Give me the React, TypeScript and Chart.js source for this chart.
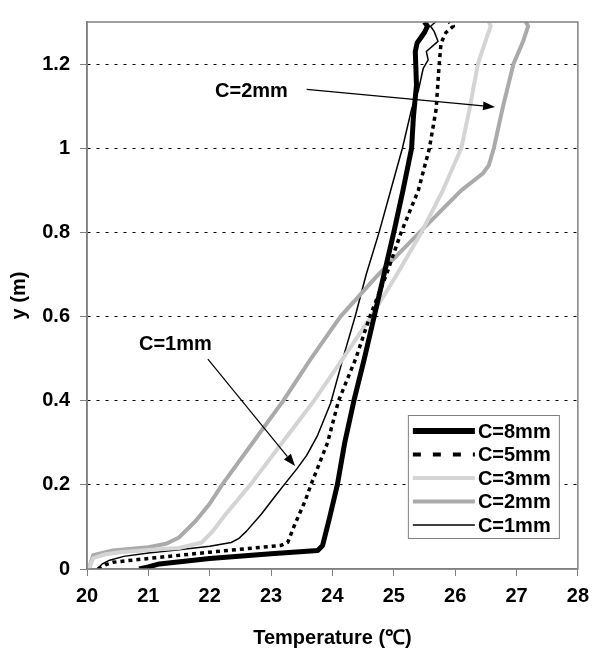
import React, { useEffect, useRef } from "react";
import { Chart, registerables } from "chart.js";

Chart.register(...registerables);

const FONT = "'Liberation Sans', Arial, Helvetica, sans-serif";

// ---- data (temperature in °C, height y in m) ----
const seriesNames = ["C=8mm", "C=5mm", "C=3mm", "C=2mm", "C=1mm"];

const c8Temp = [20.85, 21.0, 21.18, 22.0, 23.0, 23.76, 23.84, 23.95, 24.08, 24.2, 24.35, 24.52, 24.68, 24.84, 25.0, 25.15, 25.29, 25.32, 25.37, 25.35, 25.38, 25.5, 25.55, 25.5];
const c8Y = [0.0, 0.005, 0.012, 0.025, 0.036, 0.044, 0.056, 0.12, 0.2, 0.3, 0.4, 0.5, 0.6, 0.7, 0.8, 0.9, 1.0, 1.075, 1.15, 1.23, 1.25, 1.275, 1.29, 1.3];

const c5Temp = [20.18, 20.3, 20.42, 21.0, 22.0, 23.16, 23.27, 23.39, 23.55, 23.65, 23.92, 24.1, 24.38, 24.61, 24.88, 25.12, 25.4, 25.58, 25.69, 25.74, 25.77, 25.85, 25.97, 25.9];
const c5Y = [0.0, 0.01, 0.016, 0.025, 0.04, 0.056, 0.063, 0.107, 0.16, 0.2, 0.3, 0.4, 0.5, 0.6, 0.7, 0.8, 0.9, 1.0, 1.093, 1.2, 1.25, 1.275, 1.29, 1.3];

const c3Temp = [20.03, 20.1, 20.3, 20.53, 21.0, 21.5, 21.87, 22.05, 22.26, 22.66, 23.18, 23.7, 24.17, 24.63, 25.05, 25.45, 25.8, 26.1, 26.23, 26.37, 26.53, 26.58, 26.55];
const c3Y = [0.0, 0.026, 0.035, 0.04, 0.045, 0.05, 0.063, 0.09, 0.13, 0.2, 0.3, 0.4, 0.5, 0.6, 0.7, 0.8, 0.9, 1.0, 1.09, 1.2, 1.27, 1.29, 1.3];

const c2Temp = [20.03, 20.1, 20.42, 21.0, 21.29, 21.5, 21.77, 22.0, 22.2, 22.7, 23.2, 23.65, 24.13, 24.75, 25.42, 26.1, 26.45, 26.55, 26.63, 26.77, 26.95, 27.11, 27.19, 27.15];
const c2Y = [0.0, 0.033, 0.044, 0.052, 0.06, 0.075, 0.114, 0.155, 0.2, 0.3, 0.4, 0.5, 0.6, 0.7, 0.8, 0.9, 0.94, 0.96, 1.0, 1.093, 1.2, 1.255, 1.29, 1.3];

const c1Temp = [20.16, 20.25, 20.37, 20.6, 21.0, 21.5, 22.0, 22.35, 22.47, 22.6, 22.84, 23.05, 23.25, 23.42, 23.58, 23.75, 23.97, 24.19, 24.37, 24.55, 24.76, 24.95, 25.14, 25.29, 25.4, 25.48, 25.56, 25.53, 25.72, 25.66, 25.6, 25.68];
const c1Y = [0.0, 0.012, 0.021, 0.03, 0.038, 0.046, 0.054, 0.063, 0.072, 0.09, 0.13, 0.17, 0.207, 0.238, 0.27, 0.315, 0.394, 0.51, 0.6, 0.7, 0.8, 0.9, 1.0, 1.093, 1.137, 1.19, 1.21, 1.23, 1.254, 1.277, 1.29, 1.3];

const xMin = 20, xMax = 28, xStep = 1;
const yMin = 0, yMax = 1.3, yStep = 0.2;

// annotation texts with arrows: [label, textX, textY, arrowFromX, arrowFromY, arrowToX, arrowToY] in data units
const annotations: [string, number, number, number, number, number, number][] = [
  ["C=2mm", 22.68, 1.135, 23.58, 1.14, 26.65, 1.098],
  ["C=1mm", 21.44, 0.534, 21.97, 0.499, 23.39, 0.245],
];

const styles = [
  { color: "#000000", width: 5, dash: [] as number[], legendWidth: 6, legendDash: [] as number[] },
  { color: "#000000", width: 3.5, dash: [4, 4], legendWidth: 4, legendDash: [8, 12] },
  { color: "#d4d4d4", width: 4, dash: [] as number[], legendWidth: 4, legendDash: [] as number[] },
  { color: "#aaaaaa", width: 4, dash: [] as number[], legendWidth: 4, legendDash: [] as number[] },
  { color: "#000000", width: 1.5, dash: [] as number[], legendWidth: 1.5, legendDash: [] as number[] },
];

const temps = [c8Temp, c5Temp, c3Temp, c2Temp, c1Temp];
const heights = [c8Y, c5Y, c3Y, c2Y, c1Y];

const zip = (xs: number[], ys: number[]) => xs.map((x, i) => ({ x, y: ys[i] }));

const decorPlugin = {
  id: "decor",
  afterDatasetsDraw(chart: any) {
    const { ctx, chartArea } = chart;
    const xs = chart.scales.x;
    const ys = chart.scales.y;
    ctx.save();
    // frame
    ctx.strokeStyle = "#808080";
    ctx.lineWidth = 1.5;
    ctx.setLineDash([]);
    ctx.strokeRect(chartArea.left, chartArea.top, chartArea.right - chartArea.left, chartArea.bottom - chartArea.top);

    // annotations
    ctx.font = `bold 20px ${FONT}`;
    ctx.textAlign = "center";
    ctx.textBaseline = "middle";
    for (const [label, tx, ty, fx, fy, toX, toY] of annotations) {
      ctx.fillStyle = "#000";
      ctx.fillText(label, xs.getPixelForValue(tx), ys.getPixelForValue(ty));
      const x1 = xs.getPixelForValue(fx), y1 = ys.getPixelForValue(fy);
      const x2 = xs.getPixelForValue(toX), y2 = ys.getPixelForValue(toY);
      const ang = Math.atan2(y2 - y1, x2 - x1);
      const hl = 12, hw = 4.5;
      const bx = x2 - hl * Math.cos(ang), by = y2 - hl * Math.sin(ang);
      ctx.strokeStyle = "#000";
      ctx.lineWidth = 1.2;
      ctx.beginPath();
      ctx.moveTo(x1, y1);
      ctx.lineTo(bx, by);
      ctx.stroke();
      ctx.beginPath();
      ctx.moveTo(x2, y2);
      ctx.lineTo(bx + hw * Math.sin(ang), by - hw * Math.cos(ang));
      ctx.lineTo(bx - hw * Math.sin(ang), by + hw * Math.cos(ang));
      ctx.closePath();
      ctx.fillStyle = "#000";
      ctx.fill();
    }

    // legend
    const bw = 151, bh = 123;
    const bx0 = chartArea.right - 19 - bw;
    const by0 = chartArea.bottom - 31 - bh;
    ctx.fillStyle = "#fff";
    ctx.fillRect(bx0, by0, bw, bh);
    ctx.strokeStyle = "#808080";
    ctx.lineWidth = 1;
    ctx.strokeRect(bx0 + 0.5, by0 + 0.5, bw, bh);
    ctx.font = `bold 20px ${FONT}`;
    ctx.textAlign = "left";
    ctx.textBaseline = "middle";
    seriesNames.forEach((name, i) => {
      const cy = by0 + 16 + i * 23.5;
      const st = styles[i];
      ctx.strokeStyle = st.color;
      ctx.lineWidth = st.legendWidth;
      ctx.setLineDash(st.legendDash);
      ctx.lineCap = "butt";
      ctx.beginPath();
      ctx.moveTo(bx0 + 5, cy);
      ctx.lineTo(bx0 + 67, cy);
      ctx.stroke();
      ctx.setLineDash([]);
      ctx.fillStyle = "#000";
      ctx.fillText(name, bx0 + 70, cy + 1);
    });
    ctx.restore();
  },
};

export default function App() {
  const ref = useRef<HTMLCanvasElement | null>(null);
  useEffect(() => {
    if (!ref.current) return;
    const datasets = seriesNames.map((name, i) => ({
      label: name,
      data: zip(temps[i], heights[i]),
      borderColor: styles[i].color,
      backgroundColor: styles[i].color,
      borderWidth: styles[i].width,
      borderDash: styles[i].dash,
      borderCapStyle: "butt" as const,
      borderJoinStyle: "round" as const,
      showLine: true,
      pointRadius: 0,
      tension: 0,
      fill: false,
    }));
    const chart = new Chart(ref.current, {
      type: "scatter",
      data: { datasets },
      plugins: [decorPlugin],
      options: {
        animation: false,
        responsive: false,
        devicePixelRatio: 1,
        layout: { padding: { top: 12, right: 14, left: 0, bottom: 0 } },
        plugins: { legend: { display: false }, tooltip: { enabled: false } },
        scales: {
          x: {
            type: "linear",
            min: xMin,
            max: xMax,
            afterFit: (s: any) => { s.height = 81; },
            ticks: {
              stepSize: xStep,
              color: "#000",
              padding: 8,
              font: { family: FONT, size: 20, weight: "bold" },
              includeBounds: false,
            },
            grid: { drawOnChartArea: false, tickLength: 7, tickColor: "#808080", color: "#808080" },
            border: { color: "#808080", width: 1.5 },
            title: {
              display: true,
              text: "Temperature (℃)",
              color: "#000",
              font: { family: FONT, size: 20, weight: "bold" },
              padding: { top: 0, bottom: 0 },
            },
          },
          y: {
            type: "linear",
            min: yMin,
            max: yMax,
            afterFit: (s: any) => { s.width = 87; },
            ticks: {
              stepSize: yStep,
              includeBounds: false,
              color: "#000",
              padding: 10,
              font: { family: FONT, size: 20, weight: "bold" },
              callback: (v: any) => String(Math.round(Number(v) * 10) / 10),
            },
            grid: {
              color: (c: any) => (c.tick && c.tick.value === 0 ? "rgba(0,0,0,0)" : "#000"),
              lineWidth: 1,
              tickBorderDash: [],
              tickLength: 7,
              tickColor: "#808080",
            },
            border: { color: "#808080", width: 1.5, dash: [3, 6] },
            title: {
              display: true,
              text: "y (m)",
              color: "#000",
              font: { family: FONT, size: 20, weight: "bold" },
              padding: { top: 7, bottom: 0 },
            },
          },
        },
      },
    } as any);
    return () => chart.destroy();
  }, []);
  return (
    <div style={{ position: "absolute", left: 0, top: 0, width: 597, height: 650, background: "#fff" }}>
      <canvas ref={ref} width={597} height={650} style={{ width: 597, height: 650, display: "block" }} />
    </div>
  );
}
